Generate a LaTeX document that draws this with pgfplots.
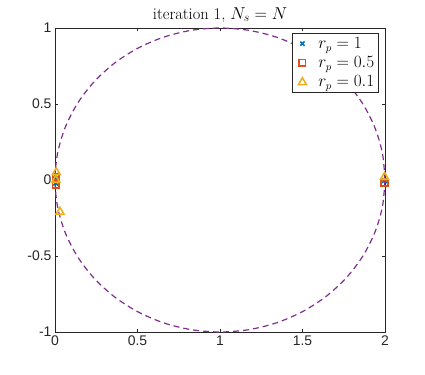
\documentclass[border=0pt]{standalone}
\usepackage{fontspec}
\usepackage{pgfplots}
\pgfplotsset{compat=1.18}
\newfontfamily\arial{Liberation Sans}
\definecolor{mblue}{rgb}{0,0.447,0.741}
\definecolor{morange}{rgb}{0.85,0.325,0.098}
\definecolor{myellow}{rgb}{0.929,0.694,0.125}
\definecolor{mpurple}{rgb}{0.494,0.184,0.556}

\begin{document}
\begin{tikzpicture}
\path[use as bounding box] (-55bp,-43bp) rectangle (370bp,332bp);
\begin{axis}[
    scale only axis,
    width=330bp, height=304bp,
    xmin=0, xmax=2, ymin=-1, ymax=1,
    xtick={0,0.5,1,1.5,2},
    xticklabels={0,0.5,1,1.5,2},
    ytick={-1,-0.5,0,0.5,1},
    yticklabels={-1,-0.5,0,0.5,1},
    tick align=inside,
    major tick length=3.3bp,
    tick style={color=black!85, line width=0.5bp},
    axis line style={color=black!85, line width=0.6bp},
    tick label style={font=\arial\fontsize{14}{14}\selectfont, color=black!85},
    title={iteration 1, $N_s=N$},
    title style={font=\fontsize{16.5}{18}\selectfont, yshift=-4bp},
    legend style={at={(rel axis cs:0.982,0.985)}, anchor=north east,
        font=\fontsize{16}{18}\selectfont, draw=black!85, line width=0.6bp,
        row sep=2.5bp, inner sep=2.5bp},
    legend cell align=left,
    clip=false,
]
\addplot[only marks, mark=x, mark size=3.3bp, color=mblue, line width=1.6bp,
    legend image code/.code={\draw[mblue, line width=1.6bp, mark=x, mark size=3bp] plot coordinates {(7bp,0bp)}; \path (0bp,0bp) (20bp,0bp);}]
coordinates {(0.004,0.03) (0.004,0.0) (0.004,-0.02) (1.997,-0.004)};
\addlegendentry{$r_p=1$}
\addplot[only marks, mark=square, mark size=3.2bp, color=morange, line width=1.7bp,
    legend image code/.code={\draw[morange, line width=1.7bp, mark=square, mark size=3.2bp] plot coordinates {(7bp,0bp)}; \path (0bp,0bp) (20bp,0bp);}]
coordinates {(0.005,0.02) (0.005,-0.03) (1.997,-0.02)};
\addlegendentry{$r_p=0.5$}
\addplot[only marks, mark=triangle, mark size=4.6bp, color=myellow, line width=1.6bp,
    legend image code/.code={\draw[myellow, line width=1.6bp, mark=triangle, mark size=4.6bp] plot coordinates {(7bp,-0.5bp)}; \path (0bp,0bp) (20bp,0bp);}]
coordinates {(0.008,0.05) (0.005,0.0) (0.03,-0.21) (1.997,0.02)};
\addlegendentry{$r_p=0.1$}
\addplot[color=mpurple, line width=1.2bp, dash pattern=on 6bp off 4bp, smooth, forget plot]
coordinates {
(2,0) (1.9848,0.1736) (1.9397,0.3420) (1.8660,0.5) (1.7660,0.6428)
(1.6428,0.7660) (1.5,0.8660) (1.3420,0.9397) (1.1736,0.9848) (1,1)
(0.8264,0.9848) (0.6580,0.9397) (0.5,0.8660) (0.3572,0.7660) (0.2340,0.6428)
(0.1340,0.5) (0.0603,0.3420) (0.0152,0.1736) (0,0)
(0.0152,-0.1736) (0.0603,-0.3420) (0.1340,-0.5) (0.2340,-0.6428) (0.3572,-0.7660)
(0.5,-0.8660) (0.6580,-0.9397) (0.8264,-0.9848) (1,-1) (1.1736,-0.9848)
(1.3420,-0.9397) (1.5,-0.8660) (1.6428,-0.7660) (1.7660,-0.6428) (1.8660,-0.5)
(1.9397,-0.3420) (1.9848,-0.1736) (2,0)
};
\end{axis}
\end{tikzpicture}
\end{document}
